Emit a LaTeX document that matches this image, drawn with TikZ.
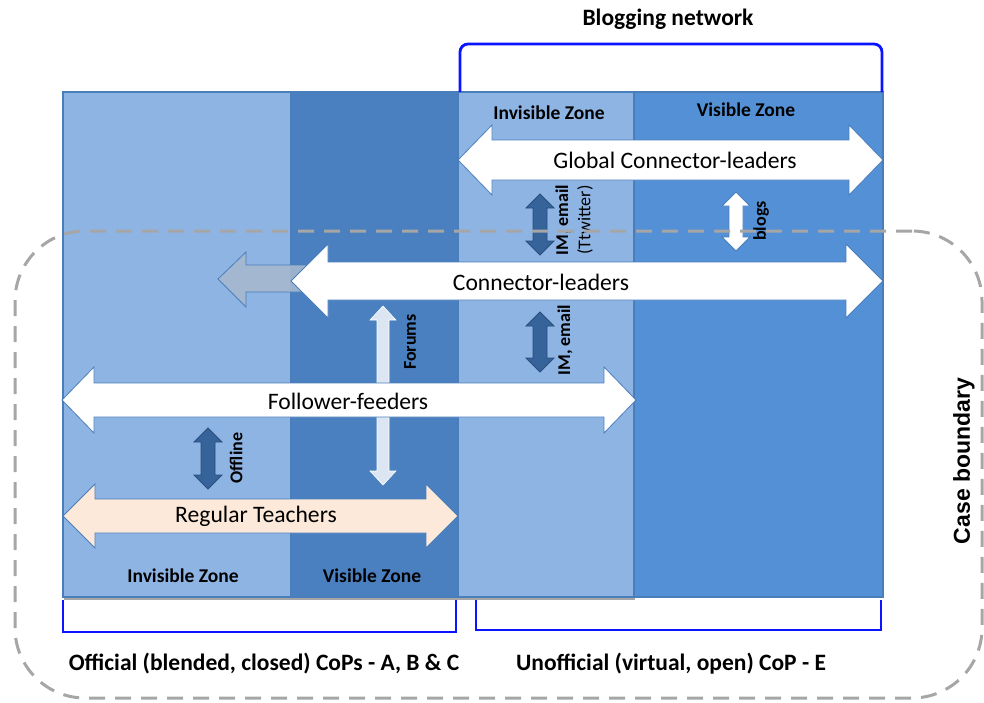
\documentclass[tikz,border=0pt]{standalone}
\usepackage{fontspec}
\setmainfont{Carlito}
\newfontfamily\arialfont{Liberation Sans}
\definecolor{lightzone}{HTML}{8EB4E3}
\definecolor{leftvis}{HTML}{4A80BF}
\definecolor{rightvis}{HTML}{5490D5}
\definecolor{zoneborder}{HTML}{4A7EBB}
\definecolor{darkarr}{HTML}{35639A}
\definecolor{darkarrb}{HTML}{2A4F7E}
\definecolor{peach}{HTML}{FDE9D9}
\definecolor{grayarr}{HTML}{A6B8CE}
\definecolor{forumarr}{HTML}{DCE6F2}
\definecolor{bluebracket}{HTML}{0A14FF}
\definecolor{caseline}{HTML}{A6A6A6}
% horizontal double arrow: x1,x2,yc,shaft half,head half,head length,style
\newcommand\HArr[7]{\path[#7] (#1,#3) -- (#1+#6,#3-#5) -- (#1+#6,#3-#4) -- (#2-#6,#3-#4) -- (#2-#6,#3-#5) -- (#2,#3) -- (#2-#6,#3+#5) -- (#2-#6,#3+#4) -- (#1+#6,#3+#4) -- (#1+#6,#3+#5) -- cycle;}
% vertical double arrow: xc,y1,y2,shaft half,head half,head length,style
\newcommand\VArr[7]{\path[#7] (#1,#2) -- (#1+#5,#2+#6) -- (#1+#4,#2+#6) -- (#1+#4,#3-#6) -- (#1+#5,#3-#6) -- (#1,#3) -- (#1-#5,#3-#6) -- (#1-#4,#3-#6) -- (#1-#4,#2+#6) -- (#1-#5,#2+#6) -- cycle;}
\tikzset{
  zonebox/.style={draw=zoneborder, line width=1.2pt},
  whitearr/.style={fill=white, draw=zoneborder, line width=0.8pt},
  peacharr/.style={fill=peach, draw=zoneborder, line width=0.8pt},
  darkarrow/.style={fill=darkarr, draw=darkarrb, line width=0.8pt},
  smallwhite/.style={fill=white, draw=zoneborder, line width=0.8pt},
  forumstyle/.style={fill=forumarr, draw=white, line width=0.6pt},
  bigtxt/.style={font=\fontsize{23.6}{28}\selectfont, inner sep=0pt},
  zonetxt/.style={font=\fontsize{19.5}{23}\selectfont\bfseries, inner sep=0pt},
  captxt/.style={font=\fontsize{23.5}{28}\selectfont\bfseries, inner sep=0pt},
  vtxt/.style={font=\fontsize{18}{21}\selectfont\bfseries, rotate=90, inner sep=0pt, align=center},
  bracket/.style={draw=bluebracket, line width=2.8pt},
  casebound/.style={draw=caseline, line width=3pt, dash pattern=on 16pt off 10pt}
}
\begin{document}
\begin{tikzpicture}[x=1pt,y=-1pt]
\useasboundingbox (0,0) rectangle (984,702);
% shadow
\fill[gray!70] (64,597) rectangle (635,600);
% zones
\path[zonebox, fill=lightzone] (63,92) rectangle (291,597);
\path[zonebox, fill=leftvis] (291,92) rectangle (458,597);
\path[zonebox, fill=lightzone] (458,92) rectangle (634,597);
\path[zonebox, fill=rightvis] (634,92) rectangle (883,597);
% zone labels
\node[zonetxt] (izt) at (549,113) {Invisible Zone};
\node[zonetxt] (vzt) at (746,110) {Visible Zone};
\node[zonetxt] (izb) at (183,576) {Invisible Zone};
\node[zonetxt] (vzb) at (372,576) {Visible Zone};
% brackets
\draw[bracket, rounded corners=8pt] (460,92) -- (460,44) -- (882,44) -- (882,92);
\draw[bracket] (63,600) -- (63,632) -- (456,632) -- (456,600);
\draw[bracket] (476,600) -- (476,630) -- (881,630) -- (881,600);
\node[captxt] (blog) at (668,19) {Blogging network};
\node[captxt] (offc) at (264,664) {Official (blended, closed) CoPs - A, B \& C};
\node[captxt] (unoffc) at (671,664) {Unofficial (virtual, open) CoP - E};
\node[font=\arialfont\fontsize{23}{27}\selectfont\bfseries, rotate=90, inner sep=0pt] (case) at (964,461) {Case boundary};
% gray left arrow
\path[fill=grayarr, fill opacity=0.9, draw=zoneborder, line width=0.8pt] (218,279) -- (246,252) -- (246,265) -- (330,265) -- (330,292) -- (246,292) -- (246,307) -- cycle;
% forums arrow (behind the horizontal arrows)
\VArr{383}{306}{485}{6}{13}{14}{forumstyle}
\node[vtxt] (forums) at (410,342) {Forums};
% big arrows
\HArr{458}{883}{160}{20}{35}{34}{whitearr}
\node[bigtxt] (gcl) at (675,160) {Global Connector-leaders};
\HArr{291}{883}{281}{19}{37}{37}{whitearr}
\node[bigtxt] (cl) at (541,282) {Connector-leaders};
\HArr{62}{636}{400}{17}{33}{32}{whitearr}
\node[bigtxt] (ff) at (348,401) {Follower-feeders};
\HArr{63}{458}{516}{17}{32}{32}{peacharr}
\node[bigtxt] (rt) at (256,516) {Regular Teachers};
% vertical arrows
\VArr{540}{194}{255}{7}{14}{14}{darkarrow}
\node[vtxt] (im1a) at (563,220) {IM, email};
\node[vtxt, font=\fontsize{18}{21}\selectfont] (im1b) at (585,220) {(Ttwitter)};
\VArr{736}{192}{251}{7}{14}{14}{smallwhite}
\node[vtxt] (blogs) at (761,221) {blogs};
\VArr{540}{312}{372}{7}{14}{14}{darkarrow}
\node[vtxt] (im2) at (565,340) {IM, email};
\VArr{208}{428}{489}{7}{14}{14}{darkarrow}
\node[vtxt] (offline) at (236,458) {Offline};
% case boundary
\draw[casebound, rounded corners=70pt] (982,231) -- (15,231) -- (15,698) -- (982,698) -- cycle;
\end{tikzpicture}
\end{document}
